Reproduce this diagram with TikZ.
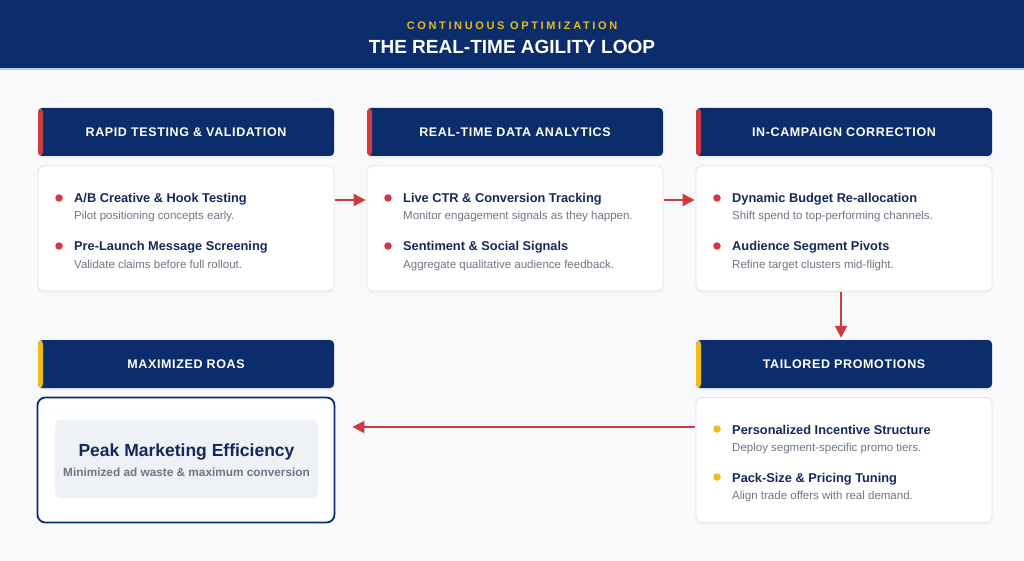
\documentclass[tikz,border=0pt]{standalone}
\usepackage{fontspec}
\setmainfont{Liberation Sans}
\usetikzlibrary{shadows,arrows.meta}
\definecolor{navy}{HTML}{0C2D6B}
\definecolor{accred}{HTML}{CF3A3E}
\definecolor{accyel}{HTML}{F0BC1E}
\definecolor{subyel}{HTML}{E8B922}
\definecolor{txtnavy}{HTML}{14295A}
\definecolor{txtgray}{HTML}{6E7684}
\definecolor{pagebg}{HTML}{F8F9FB}
\definecolor{cardborder}{HTML}{E1E5EB}
\definecolor{innergray}{HTML}{EEF1F5}
\definecolor{bandline}{HTML}{B8CBE6}
\tikzset{
  hdr/.style={rounded corners=4pt, fill=navy, minimum width=296pt, minimum height=48pt, inner sep=0pt,
    text=white, font=\bfseries\fontsize{12.5}{14}\selectfont\addfontfeature{LetterSpace=5},
    drop shadow={opacity=0.07, shadow xshift=0pt, shadow yshift=-2pt}},
  accent/.style={path picture={\fill[#1] (path picture bounding box.north west) rectangle ([xshift=5pt]path picture bounding box.south west);}},
  card/.style={rounded corners=6pt, fill=white, draw=cardborder, line width=0.8pt, minimum width=296pt, minimum height=125pt, inner sep=0pt,
    drop shadow={opacity=0.06, shadow xshift=0pt, shadow yshift=-2pt}},
  goalcard/.style={rounded corners=8pt, fill=white, draw=navy, line width=1.8pt, minimum width=297pt, minimum height=125pt, inner sep=0pt},
  innerbox/.style={rounded corners=6pt, fill=innergray, minimum width=263pt, minimum height=78pt, inner sep=0pt},
  ititle/.style={anchor=base west, inner sep=0pt, text=txtnavy, font=\bfseries\fontsize{12.8}{14}\selectfont},
  isub/.style={anchor=base west, inner sep=0pt, text=txtgray, font=\fontsize{11.5}{13}\selectfont},
  dotc/.style={circle, fill=#1, minimum size=7.5pt, inner sep=0pt},
  arr/.style={draw=accred, line width=2pt, -{Triangle[length=12pt, width=12pt]}},
}
\begin{document}
\begin{tikzpicture}[x=1pt, y=-1pt]
\useasboundingbox (0,0) rectangle (1024,561);
\fill[pagebg] (0,0) rectangle (1024,561);
% top band
\fill[navy] (0,0) rectangle (1024,68);
\fill[bandline] (0,68) rectangle (1024,70);
\node[anchor=base, inner sep=0pt, text=subyel, font=\bfseries\fontsize{11}{13}\selectfont\addfontfeature{LetterSpace=24}] (sup) at (512,30) {CONTINUOUS OPTIMIZATION};
\node[anchor=base, inner sep=0pt, text=white, font=\bfseries\fontsize{19}{22}\selectfont] (ttl) at (512,54) {THE REAL-TIME AGILITY LOOP};

% row 1 headers
\node[hdr, accent=accred] (h1) at (186,132) {RAPID TESTING \& VALIDATION};
\node[hdr, accent=accred] (h2) at (515,132) {REAL-TIME DATA ANALYTICS};
\node[hdr, accent=accred] (h3) at (844,132) {IN-CAMPAIGN CORRECTION};
% row 1 cards
\node[card] (b1) at (186,228.5) {};
\node[card] (b2) at (515,228.5) {};
\node[card] (b3) at (844,228.5) {};

% card 1 items
\node[dotc=accred] (d11) at (59,198) {};
\node[ititle] (t11) at (74,202.3) {A/B Creative \& Hook Testing};
\node[isub] (s11) at (74,219.3) {Pilot positioning concepts early.};
\node[dotc=accred] (d12) at (59,246) {};
\node[ititle] (t12) at (74,251) {Pre-Launch Message Screening};
\node[isub] (s12) at (74,268.3) {Validate claims before full rollout.};
% card 2 items
\node[dotc=accred] (d21) at (388,198) {};
\node[ititle] (t21) at (403,202.3) {Live CTR \& Conversion Tracking};
\node[isub] (s21) at (403,219.3) {Monitor engagement signals as they happen.};
\node[dotc=accred] (d22) at (388,246) {};
\node[ititle] (t22) at (403,251) {Sentiment \& Social Signals};
\node[isub] (s22) at (403,268.3) {Aggregate qualitative audience feedback.};
% card 3 items
\node[dotc=accred] (d31) at (717,198) {};
\node[ititle] (t31) at (732,202.3) {Dynamic Budget Re-allocation};
\node[isub] (s31) at (732,219.3) {Shift spend to top-performing channels.};
\node[dotc=accred] (d32) at (717,246) {};
\node[ititle] (t32) at (732,251) {Audience Segment Pivots};
\node[isub] (s32) at (732,268.3) {Refine target clusters mid-flight.};

% row 2 headers
\node[hdr, accent=accyel] (h4) at (186,364) {MAXIMIZED ROAS};
\node[hdr, accent=accyel] (h6) at (844,364) {TAILORED PROMOTIONS};
% row 2 cards
\node[goalcard] (b4) at (186,460) {};
\node[innerbox] (ib) at (186.5,459) {};
\node[anchor=base, inner sep=0pt, text=txtnavy, font=\bfseries\fontsize{17.5}{20}\selectfont] (pk) at (186.5,456) {Peak Marketing Efficiency};
\node[anchor=base, inner sep=0pt, text=txtgray, font=\bfseries\fontsize{11.8}{13}\selectfont] (pks) at (186.5,476.7) {Minimized ad waste \& maximum conversion};
\node[card] (b6) at (844,460) {};
\node[dotc=accyel] (d61) at (717,429) {};
\node[ititle] (t61) at (732,434) {Personalized Incentive Structure};
\node[isub] (s61) at (732,451.7) {Deploy segment-specific promo tiers.};
\node[dotc=accyel] (d62) at (717,477) {};
\node[ititle] (t62) at (732,482.3) {Pack-Size \& Pricing Tuning};
\node[isub] (s62) at (732,499.3) {Align trade offers with real demand.};

% connectors
\draw[arr, shorten <=1pt, shorten >=1pt] ([yshift=28.5pt]b1.east) -- ([yshift=28.5pt]b2.west);
\draw[arr, shorten <=1pt, shorten >=1pt] ([yshift=28.5pt]b2.east) -- ([yshift=28.5pt]b3.west);
\draw[arr, shorten <=1pt, shorten >=2pt] ([xshift=-3pt]b3.south) -- ([xshift=-3pt]h6.north);
\draw[arr, shorten <=1pt, shorten >=17pt] ([yshift=33pt]b6.west) -- ([yshift=33pt]b4.east);
\end{tikzpicture}
\end{document}
